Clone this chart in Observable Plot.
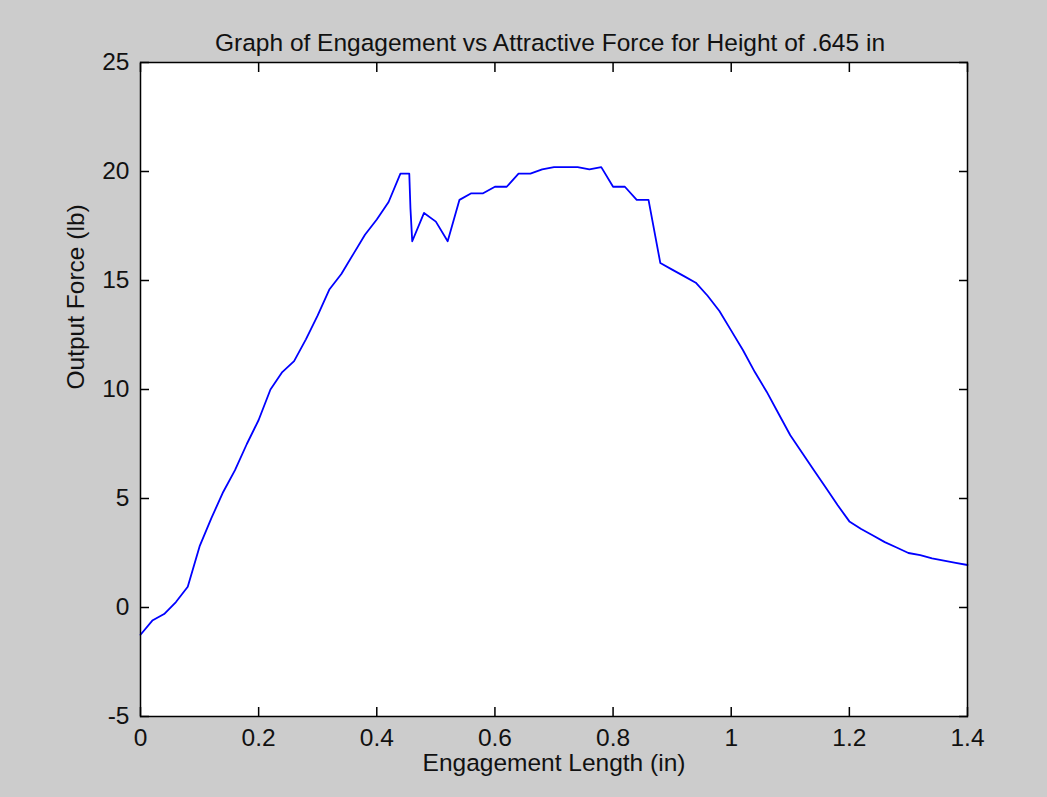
<!DOCTYPE html>
<html>
<head>
<meta charset="utf-8">
<script src="https://cdn.jsdelivr.net/npm/d3@7"></script>
<script src="https://cdn.jsdelivr.net/npm/@observablehq/plot@0.6"></script>
<style>
  html, body { margin: 0; padding: 0; background: #cccccc; }
  #chart svg { display: block; }
</style>
</head>
<body>
<div id="chart"></div>
<script>
const titleText = "Graph of Engagement vs Attractive Force for Height of .645 in";
const xLabel = "Engagement Length (in)";
const yLabel = "Output Force (lb)";

const engagement = [0, 0.02, 0.04, 0.06, 0.08, 0.10, 0.12, 0.14, 0.16, 0.18, 0.20, 0.22, 0.24, 0.26, 0.28, 0.30,
  0.32, 0.34, 0.36, 0.38, 0.40, 0.42, 0.44, 0.455, 0.457, 0.46, 0.48, 0.50, 0.52, 0.54, 0.56, 0.58, 0.60,
  0.62, 0.64, 0.66, 0.68, 0.70, 0.74, 0.76, 0.78, 0.80, 0.82, 0.84, 0.86, 0.88, 0.90, 0.92, 0.94, 0.96,
  0.98, 1.00, 1.02, 1.04, 1.06, 1.08, 1.10, 1.12, 1.14, 1.16, 1.18, 1.20, 1.22, 1.24, 1.26, 1.28, 1.30,
  1.32, 1.34, 1.36, 1.38, 1.40];
const force = [-1.25, -0.6, -0.3, 0.25, 0.95, 2.8, 4.1, 5.3, 6.3, 7.5, 8.6, 10.0, 10.8, 11.3, 12.3, 13.4,
  14.6, 15.3, 16.2, 17.1, 17.8, 18.6, 19.9, 19.9, 18.3, 16.8, 18.1, 17.7, 16.8, 18.7, 19.0, 19.0, 19.3,
  19.3, 19.9, 19.9, 20.1, 20.2, 20.2, 20.1, 20.2, 19.3, 19.3, 18.7, 18.7, 15.8, 15.5, 15.2, 14.9, 14.3,
  13.6, 12.7, 11.8, 10.8, 9.9, 8.9, 7.9, 7.1, 6.3, 5.5, 4.7, 3.95, 3.6, 3.3, 3.0, 2.75, 2.5,
  2.4, 2.25, 2.15, 2.05, 1.95];

const xTicks = [0, 0.2, 0.4, 0.6, 0.8, 1, 1.2, 1.4];
const yTicks = [-5, 0, 5, 10, 15, 20, 25];

const data = engagement.map((x, i) => ({x, y: force[i]}));

const font = "'Liberation Sans', Arial, Helvetica, sans-serif";
const fs = 24.5;
const tickLen = 9;

const chart = Plot.plot({
  width: 1047,
  height: 797,
  marginLeft: 140,
  marginRight: 80,
  marginTop: 62,
  marginBottom: 81,
  style: {background: "#cccccc", fontFamily: font, color: "#000"},
  x: {domain: [0, 1.4], ticks: xTicks, tickFormat: d => String(d)},
  y: {domain: [-5, 25], ticks: yTicks, tickFormat: d => String(d)},
  marks: [
    Plot.frame({fill: "white", stroke: null}),
    Plot.line(data, {x: "x", y: "y", stroke: "#0000ff", strokeWidth: 1.8}),
    Plot.frame({stroke: "black", strokeWidth: 1.5}),
    // inward ticks on all four sides
    Plot.axisX(xTicks, {anchor: "bottom", tickSize: tickLen, dy: -tickLen, fill: "none", stroke: "black", strokeWidth: 1.5, label: null}),
    Plot.axisX(xTicks, {anchor: "top", tickSize: tickLen, dy: tickLen, fill: "none", stroke: "black", strokeWidth: 1.5, label: null}),
    Plot.axisY(yTicks, {anchor: "left", tickSize: tickLen, dx: tickLen, fill: "none", stroke: "black", strokeWidth: 1.5, label: null}),
    Plot.axisY(yTicks, {anchor: "right", tickSize: tickLen, dx: -tickLen, fill: "none", stroke: "black", strokeWidth: 1.5, label: null}),
    // tick labels
    Plot.axisX(xTicks, {anchor: "bottom", tickSize: 0, tickPadding: 12, fontSize: fs, fill: "#111", label: null, tickFormat: d => String(d)}),
    Plot.axisY(yTicks, {anchor: "left", tickSize: 0, tickPadding: 11, fontSize: fs, fill: "#111", label: null, tickFormat: d => String(d)}),
    // title and axis labels
    Plot.text([titleText], {text: d => d, frameAnchor: "top", dy: -29, dx: -4, fontSize: fs, fill: "#111"}),
    Plot.text([xLabel], {text: d => d, frameAnchor: "bottom", dy: 54, fontSize: fs, fill: "#111"}),
    Plot.text([yLabel], {text: d => d, frameAnchor: "left", dx: -64, rotate: -90, fontSize: fs, fill: "#111"})
  ]
});
document.getElementById("chart").appendChild(chart);
</script>
</body>
</html>
